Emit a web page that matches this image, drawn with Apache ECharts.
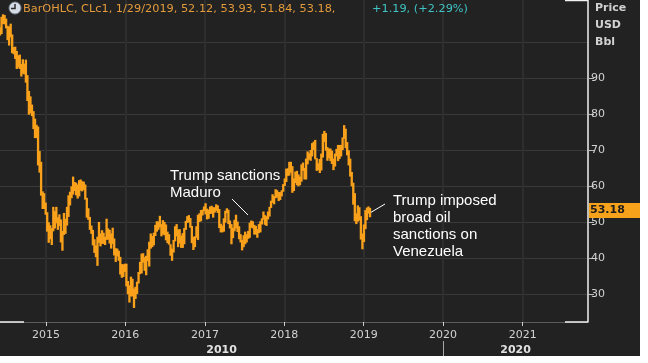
<!DOCTYPE html>
<html><head><meta charset="utf-8">
<script src="https://cdn.jsdelivr.net/npm/echarts@6/dist/echarts.min.js"></script>
<style>html,body{margin:0;padding:0;background:#fff;}#c{width:640px;height:356px;}</style>
</head><body><div id="c"></div>
<script>
// ---- data ----
const yearLabels = ['2015','2016','2017','2018','2019','2020','2021'];
const decadeLabels = ['2010','2020'];
const priceTicks = [30,40,50,60,70,80,90];
const firstWeek = '2014-06-04';
const weekLow = [
101.8,102.2,105.0,104.9,103.8,100.5,99.0,101.3,96.9,96.6,95.3,92.5,92.9,92.5,90.4,91.2,91.0,88.7,83.6,79.8,80.2,79.4,75.8,73.3,73.3,65.7,63.7,57.3,53.6,53.6,52.0,
47.3,44.2,45.2,43.6,47.4,48.2,49.6,47.8,48.9,44.3,42.0,46.4,46.7,49.0,51.4,54.6,56.6,57.6,58.6,57.4,56.5,57.1,58.7,58.5,58.9,56.2,51.2,50.6,47.8,46.7,43.5,41.4,40.2,37.8,44.2,43.2,43.9,43.9,43.6,45.0,45.1,44.0,42.6,43.9,40.7,38.9,40.4,39.2,35.4,34.5,34.7,36.1,
32.1,29.9,27.6,29.3,29.3,26.1,28.6,30.0,32.9,35.5,35.7,38.7,36.4,35.2,39.1,37.6,42.6,43.0,43.5,46.1,47.3,47.8,48.5,46.0,46.5,46.3,44.9,44.1,43.7,40.6,39.2,41.5,44.6,46.0,43.0,44.0,42.8,42.8,43.8,47.8,49.7,49.9,48.4,44.1,42.2,43.0,45.6,45.0,50.0,50.2,51.8,53.0,
52.1,50.7,50.9,52.2,52.3,51.2,52.6,53.1,52.5,48.3,47.1,47.1,47.3,49.8,52.4,49.4,48.2,43.8,45.5,47.4,48.2,47.2,45.2,44.3,42.1,43.0,43.8,44.3,45.3,45.6,48.4,48.2,46.5,46.5,45.6,46.9,47.1,49.3,50.6,49.2,48.9,50.7,51.5,53.9,55.3,54.9,56.6,56.8,55.8,56.1,57.1,58.4,
60.0,61.1,62.8,62.9,63.7,58.1,58.6,60.8,60.2,59.9,60.2,61.2,64.2,61.8,61.8,66.0,67.3,67.0,68.2,70.0,67.4,64.2,64.4,63.6,64.3,67.9,72.2,69.8,67.0,67.7,66.9,66.1,64.4,65.4,68.2,66.9,67.5,68.2,70.0,73.1,70.5,68.5,65.7,62.6,59.9,54.8,50.2,49.4,50.1,50.4,45.1,42.4,
44.4,48.0,50.5,52.3,51.3
];
const weekHigh = [
104.1,107.0,107.7,107.5,106.5,104.5,104.3,105.1,102.1,98.6,98.7,97.5,96.3,96.5,93.9,95.2,94.0,95.1,90.8,86.4,84.9,82.6,80.8,78.7,77.0,76.5,69.7,66.7,58.5,58.0,55.4,
52.7,49.9,49.1,48.3,54.2,53.0,54.2,51.3,52.1,50.7,47.5,52.5,50.9,54.2,57.4,58.4,59.9,62.6,61.1,60.9,60.4,61.6,61.8,61.3,61.2,60.4,56.7,53.8,51.4,49.0,47.8,45.2,43.5,45.9,50.0,46.8,47.7,47.0,45.9,50.9,48.2,47.8,46.8,48.4,45.4,42.7,42.6,42.0,40.3,38.3,38.2,38.4,
38.4,33.6,32.4,34.8,34.2,31.5,32.0,33.4,36.1,38.9,41.2,41.3,40.2,40.6,42.4,44.5,46.8,46.1,47.0,49.2,50.2,50.1,51.7,49.4,50.5,50.0,49.3,47.3,46.6,43.8,42.6,45.0,48.8,49.4,47.9,48.0,46.2,46.9,48.3,50.3,51.6,51.9,51.1,48.9,45.9,46.0,48.8,52.0,52.4,53.3,53.4,54.3,
55.2,53.7,53.4,54.3,54.5,54.1,54.1,54.9,54.6,53.6,49.5,49.0,51.0,53.1,53.8,53.4,50.4,49.4,48.4,50.6,52.0,50.1,48.8,46.6,45.0,46.3,47.3,46.6,47.5,49.8,50.4,50.2,49.2,48.9,48.0,49.4,50.2,51.0,52.9,51.9,51.6,52.9,54.2,55.9,57.7,57.2,59.1,58.8,58.3,58.3,58.8,60.5,
62.1,64.8,64.9,66.7,66.7,65.5,62.1,64.0,64.2,63.2,62.6,66.0,66.5,65.0,67.6,69.6,69.1,70.0,71.9,72.3,72.8,67.7,66.3,67.5,69.0,74.5,75.3,74.7,70.8,70.4,70.4,69.8,67.6,69.0,70.3,71.4,71.4,71.4,73.5,76.9,75.9,72.2,69.9,67.6,63.9,60.9,58.0,52.4,54.6,54.1,51.6,46.8,
49.3,53.3,54.0,54.3,53.9
];
const quoteValues = ['52.12','53.93','51.84','53.18'];
const quoteChange = '+1.19, (+2.29%)';
const lastClose = 53.18;

// ---- build ----
const DAY = 86400000;
const t0 = Date.parse(firstWeek + 'T00:00:00Z');
const weekDates = weekLow.map((_, i) => t0 + i * 7 * DAY);
const xMin = Date.UTC(2014, 5, 4), xMax = Date.UTC(2021, 9, 28);
const yMin = 22.2, yMax = 111.67;
const yearTicks = yearLabels.map(y => Date.UTC(+y, 0, 1));
const boundary2020 = Date.UTC(2020, 0, 1);
const decadeMid = [(xMin + boundary2020) / 2, (boundary2020 + xMax) / 2];
const seriesData = weekLow.map((l, i) => [weekDates[i], l, weekHigh[i]]);

const T = 'rgba(0,0,0,0)', G = '#3a3a3a';
const chart = echarts.init(document.getElementById('c'));
chart.setOption({
  backgroundColor: '#222222',
  animation: false,
  textStyle: { fontFamily: 'DejaVu Sans' },
  grid: { left: 0, right: 52, top: 0, bottom: 34 },
  xAxis: [{
    type: 'value', min: xMin, max: xMax, position: 'bottom',
    axisLine: { show: true, lineStyle: { color: '#5c5c5c', width: 1 } },
    axisTick: { show: true, customValues: yearTicks, length: 4, lineStyle: { color: '#cfcfcf' } },
    axisLabel: { customValues: yearTicks, formatter: v => String(new Date(v).getUTCFullYear()),
      color: '#d2d2d2', fontFamily: 'DejaVu Sans', fontSize: 11, margin: 8 },
    splitLine: { show: true, lineStyle: { color: '#2e2e2e', width: 2 } }
  }, {
    type: 'value', min: xMin, max: xMax, position: 'bottom', offset: 19,
    axisLine: { show: false },
    axisTick: { show: true, customValues: [boundary2020], length: 15, lineStyle: { color: '#a8a8a8' } },
    axisLabel: { customValues: decadeMid, formatter: v => decadeLabels[v < boundary2020 ? 0 : 1],
      color: '#e2e2e2', fontWeight: 'bold', fontFamily: 'DejaVu Sans', fontSize: 11, margin: 4 },
    splitLine: { show: false }
  }],
  yAxis: [{
    type: 'value', min: yMin, max: yMax, minInterval: 10, maxInterval: 10, splitNumber: 9, position: 'right',
    axisLine: { show: false }, axisTick: { show: false }, axisLabel: { show: false },
    splitLine: { show: true, lineStyle: { color: [T, G, G, G, G, G, G, G, G, T, T], width: 1 } }
  }, {
    type: 'value', min: yMin, max: yMax, position: 'right',
    axisLine: { show: true, lineStyle: { color: '#f2f2f2', width: 1.5 } },
    axisTick: { show: true, customValues: priceTicks, length: 6, lineStyle: { color: '#bdbdbd' } },
    axisLabel: { customValues: priceTicks, color: '#d2d2d2', fontFamily: 'DejaVu Sans', fontSize: 11, margin: 3 },
    splitLine: { show: false }
  }],
  series: [{
    type: 'custom', xAxisIndex: 0, yAxisIndex: 0,
    data: seriesData,
    encode: { x: 0, y: [1, 2] },
    clip: true,
    renderItem: function (params, api) {
      const t = api.value(0);
      const lo = api.coord([t, api.value(1)]);
      const hi = api.coord([t, api.value(2)]);
      const w = api.size([7 * DAY, 0])[0];
      return { type: 'rect', shape: { x: lo[0] - w / 2 - 0.4, y: hi[1], width: w + 0.8, height: Math.max(1, lo[1] - hi[1]) },
        style: { fill: '#f9a11b' } };
    }
  }, {
    type: 'line', xAxisIndex: 0, yAxisIndex: 0, data: [], clip: false, silent: true,
    markLine: {
      silent: true, symbol: 'none', animation: false,
      lineStyle: { color: 'rgba(0,0,0,0)', width: 0 },
      data: [{ yAxis: lastClose }],
      label: { show: true, position: 'end', distance: 1, formatter: lastClose.toFixed(2),
        backgroundColor: '#f7a21b', color: '#1c1c1c', fontWeight: 'bold', fontFamily: 'DejaVu Sans',
        fontSize: 11, lineHeight: 11, padding: [2, 16, 2, 1] }
    }
  }],
  graphic: [
    { type: 'line', z: 50, shape: { x1: 0, y1: 322, x2: 24, y2: 322 }, style: { stroke: '#f2f2f2', lineWidth: 1.5 } },
    { type: 'line', z: 50, shape: { x1: 565, y1: 322, x2: 588, y2: 322 }, style: { stroke: '#f2f2f2', lineWidth: 1.5 } },
    { type: 'line', z: 50, shape: { x1: 565, y1: 0.5, x2: 588, y2: 0.5 }, style: { stroke: '#f2f2f2', lineWidth: 1.5 } },
    { type: 'circle', z: 50, shape: { cx: 15, cy: 8, r: 6 }, style: { fill: '#d6dce6', stroke: '#7d8794', lineWidth: 1 } },
    { type: 'polyline', z: 51, shape: { points: [[15, 4], [15, 8.5], [11, 8.5]] }, style: { stroke: '#2b2b2b', lineWidth: 1.5, fill: null } },
    { type: 'text', z: 50, x: 23, y: 9, style: {
        text: 'BarOHLC, CLc1, 1/29/2019, ' + quoteValues.join(', ') + ',',
        fill: '#e39b3c', font: '11.3px "DejaVu Sans"', verticalAlign: 'middle' } },
    { type: 'text', z: 50, x: 372, y: 9, style: {
        text: quoteChange, fill: '#3fc3c3', font: '11.3px "DejaVu Sans"', verticalAlign: 'middle' } },
    { type: 'text', z: 50, x: 595, y: 8, style: { text: 'Price', fill: '#d2d2d2', font: 'bold 11px "DejaVu Sans"', verticalAlign: 'middle' } },
    { type: 'text', z: 50, x: 595, y: 25, style: { text: 'USD', fill: '#d2d2d2', font: 'bold 11px "DejaVu Sans"', verticalAlign: 'middle' } },
    { type: 'text', z: 50, x: 595, y: 42, style: { text: 'Bbl', fill: '#d2d2d2', font: 'bold 11px "DejaVu Sans"', verticalAlign: 'middle' } },
    { type: 'text', z: 50, x: 170, y: 166.75, style: { text: 'Trump sanctions\nMaduro', fill: '#ffffff',
        font: '15px "Liberation Sans"', lineHeight: 17.5, verticalAlign: 'top' } },
    { type: 'line', z: 50, shape: { x1: 232, y1: 199, x2: 248, y2: 215 }, style: { stroke: '#ffffff', lineWidth: 1 } },
    { type: 'text', z: 50, x: 393, y: 192.7, style: { text: 'Trump imposed\nbroad oil\nsanctions on\nVenezuela', fill: '#ffffff',
        font: '15px "Liberation Sans"', lineHeight: 17, verticalAlign: 'top' } },
    { type: 'line', z: 50, shape: { x1: 371, y1: 212.3, x2: 385, y2: 204 }, style: { stroke: '#ffffff', lineWidth: 1 } }
  ]
});
</script></body></html>
